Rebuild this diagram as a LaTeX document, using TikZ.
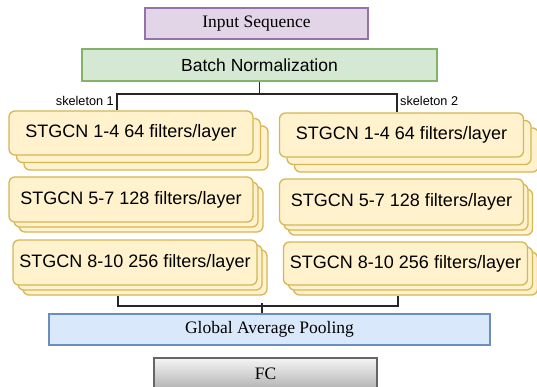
\documentclass[tikz,border=0pt]{standalone}
\usepackage{fontspec}
\setmainfont{Liberation Serif}
\newfontfamily\arialfont{Liberation Sans}
\usetikzlibrary{calc}

\definecolor{inFill}{HTML}{E1D5E7}
\definecolor{inLine}{HTML}{9673A6}
\definecolor{bnFill}{HTML}{D5E8D4}
\definecolor{bnLine}{HTML}{82B366}
\definecolor{cardFill}{HTML}{FFF2CC}
\definecolor{cardLine}{HTML}{D6B656}
\definecolor{gapFill}{HTML}{DAE8FC}
\definecolor{gapLine}{HTML}{6C8EBF}
\definecolor{fcTop}{HTML}{F5F5F5}
\definecolor{fcBot}{HTML}{B3B3B3}
\definecolor{fcLine}{HTML}{666666}

\tikzset{
  box/.style={line width=1.3pt, inner sep=0pt, font=\fontsize{17.5}{20}\selectfont},
  card/.style={draw=cardLine, fill=cardFill, line width=1.3pt, rounded corners=6pt,
    minimum width=244pt, inner sep=0pt, font=\arialfont\fontsize{18}{21}\selectfont},
  sklabel/.style={inner sep=0pt, font=\arialfont\fontsize{12.7}{14}\selectfont},
  link/.style={line width=1.3pt, draw=black!85}
}

\begin{document}
\begin{tikzpicture}[x=1pt, y=-1pt]
        \useasboundingbox (0,0) rectangle (537,387);

        % 输入与归一化
        \node[box, draw=inLine, fill=inFill, minimum width=223pt, minimum height=31pt] (input) at (256.5,23.5) {Input Sequence};
        \node[box, draw=bnLine, fill=bnFill, minimum width=355pt, minimum height=32pt, font=\arialfont\fontsize{17.5}{20}\selectfont] (bn) at (259.5,65) {Batch Normalization};

        % 左侧分支 skeleton 1
        \foreach \k in {2,1}
          \node[card, minimum height=44pt] (l1b\k) at ($(131,133)+\k*(7.5,7.5)$) {};
        \node[card, minimum height=44pt] (l1) at (131,133) {STGCN 1-4 64 filters/layer};
        \foreach \k in {2,1}
          \node[card, minimum height=45pt] (l2b\k) at ($(131,199.5)+\k*(5,5)$) {};
        \node[card, minimum height=45pt] (l2) at (131,199.5) {STGCN 5-7 128 filters/layer};
        \foreach \k in {2,1}
          \node[card, minimum height=45pt] (l3b\k) at ($(135,262.5)+\k*(5,5)$) {};
        \node[card, minimum height=45pt] (l3) at (135,262.5) {STGCN 8-10 256 filters/layer};

        % 右侧分支 skeleton 2
        \foreach \k in {2,1}
          \node[card, minimum height=44pt] (r1b\k) at ($(401.5,135)+\k*(7.5,7.5)$) {};
        \node[card, minimum height=44pt] (r1) at (401.5,135) {STGCN 1-4 64 filters/layer};
        \foreach \k in {2,1}
          \node[card, minimum height=46pt] (r2b\k) at ($(401.5,202)+\k*(4.5,5)$) {};
        \node[card, minimum height=46pt] (r2) at (401.5,202) {STGCN 5-7 128 filters/layer};
        \foreach \k in {2,1}
          \node[card, minimum height=43pt] (r3b\k) at ($(405.5,263.5)+\k*(5,5)$) {};
        \node[card, minimum height=43pt] (r3) at (405.5,263.5) {STGCN 8-10 256 filters/layer};

        % 池化与全连接
        \node[box, draw=gapLine, fill=gapFill, minimum width=441pt, minimum height=31pt] (gap) at (269.5,329.5) {Global Average Pooling};
        \node[box, draw=fcLine, top color=fcTop, bottom color=fcBot, minimum width=223pt, minimum height=31pt] (fc) at (265.5,373.5) {FC};

        % 分支连线
        \coordinate (sk1) at (117,94);
        \coordinate (sk2) at (397,94);
        \draw[link] (bn.south) -- (bn.south |- sk1);
        \draw[link] (sk1 |- l1.north) -- (sk1) -- (sk2) -- (sk2 |- r1.north);
        \node[sklabel, anchor=east] (sk1lab) at (114,101) {skeleton 1};
        \node[sklabel, anchor=west] (sk2lab) at (400,101) {skeleton 2};

        % 合并连线
        \coordinate (mg1) at (118,306);
        \coordinate (mg2) at (398,306);
        \coordinate (mid) at (262,306);
        \draw[link] (mg1 |- l3b2.south) -- (mg1) -- (mg2) -- (mg2 |- r3b2.south);
        \draw[link] (gap.north -| mid) -- ($(mid)+(0,-3)$);
    \end{tikzpicture}
\end{document}
